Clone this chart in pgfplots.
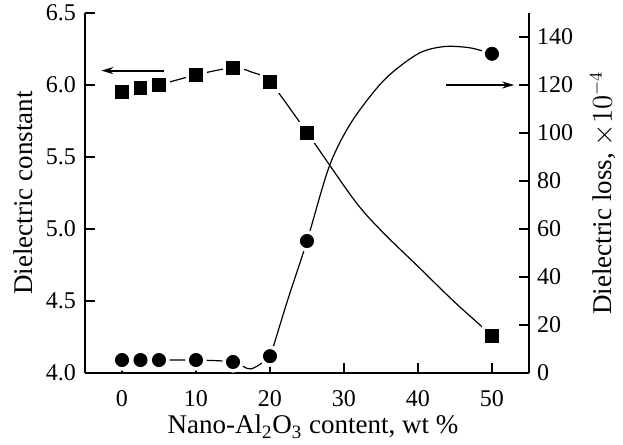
\documentclass[border=0pt]{standalone}
\usepackage{fontspec}
\setmainfont{Liberation Serif}
\usepackage{pgfplots}
\pgfplotsset{compat=1.18}
\usetikzlibrary{arrows.meta}

% squares: dielectric constant (left axis); circles: dielectric loss (right axis)
\pgfplotsset{
  base/.style={
    scale only axis, width=222pt, height=180pt,
    xmin=-5, xmax=55, xtick={0,10,...,50},
    tick align=inside, major tick length=5pt,
    axis line style={line width=1pt},
    every tick/.style={line width=1pt, black},
    ticklabel style={font=\fontsize{12}{14}\selectfont},
    label style={font=\fontsize{13.5}{16}\selectfont},
    /pgf/number format/assume math mode=true,
    axis on top,
  },
  halo/.style={only marks, white, forget plot},
}

\begin{document}
\begin{tikzpicture}
\useasboundingbox (-42.5pt,-36pt) rectangle (269pt,186.5pt);

\begin{axis}[base,
  axis x line*=bottom, axis y line*=left,
  ymin=4, ymax=6.5, ytick={4,4.5,...,6.5},
  yticklabel style={/pgf/number format/.cd, fixed, fixed zerofill, precision=1, /tikz/.cd, xshift=-1pt},
  xticklabel style={yshift=-5pt},
  xlabel={Nano-Al\textsubscript{2}O\textsubscript{3} content, wt \%},
  xlabel style={at={(axis description cs:0.5135,-0.1694)}, anchor=base},
  ylabel={Dielectric constant},
  ylabel style={at={(axis description cs:-0.1396,0.5)}, anchor=center},
  ]
% fitted curve
\addplot[black, line width=0.6pt, smooth] coordinates {
  (5,6.0) (10,6.07) (15,6.12) (17.5,6.09) (20,6.02) (25,5.67)
  (31.4,5.2) (35,4.99) (40,4.74) (45,4.49) (50,4.26)};
\addplot[halo, mark=square*, mark size=5pt] coordinates {
  (0,5.95) (2.5,5.98) (5,6.0) (10,6.07) (15,6.12) (20,6.02) (25,5.67) (50,4.26)};
\addplot[only marks, black, mark=square*, mark size=3.2pt] coordinates {
  (0,5.95) (2.5,5.98) (5,6.0) (10,6.07) (15,6.12) (20,6.02) (25,5.67) (50,4.26)};
\draw[line width=1pt, -{Stealth[length=6pt,width=3.5pt]}] (axis cs:5.7,6.10) -- (axis cs:-2.8,6.10);
\end{axis}

\begin{axis}[base,
  axis x line*=bottom, axis y line*=right,
  xticklabels={},
  ymin=0, ymax=150, ytick={0,20,...,140},
  yticklabel style={xshift=0.5pt},
  ylabel={Dielectric loss, $\times10^{-4}$},
  ylabel style={at={(axis description cs:1.1667,0.5)}, anchor=center},
  ]
\addplot[black, line width=0.6pt, smooth] coordinates {
  (5,5.4) (10,5.4) (15,4.6) (17.4,1.7) (20,7) (20.6,12.5) (22.4,30.5)
  (25,55) (28,86) (31,104.5) (35.4,122) (40,133) (43.5,136) (47,135.5) (50,133)};
\addplot[halo, mark=*, mark size=5.1pt] coordinates {
  (0,5.4) (2.5,5.4) (5,5.4) (10,5.4) (15,4.6) (20,7) (25,55) (50,133)};
\addplot[only marks, black, mark=*, mark size=3.3pt] coordinates {
  (0,5.4) (2.5,5.4) (5,5.4) (10,5.4) (15,4.6) (20,7) (25,55) (50,133)};
\draw[line width=1pt, -{Stealth[length=6pt,width=3.5pt]}] (axis cs:43.8,120) -- (axis cs:53,120);
\end{axis}
\end{tikzpicture}
\end{document}
